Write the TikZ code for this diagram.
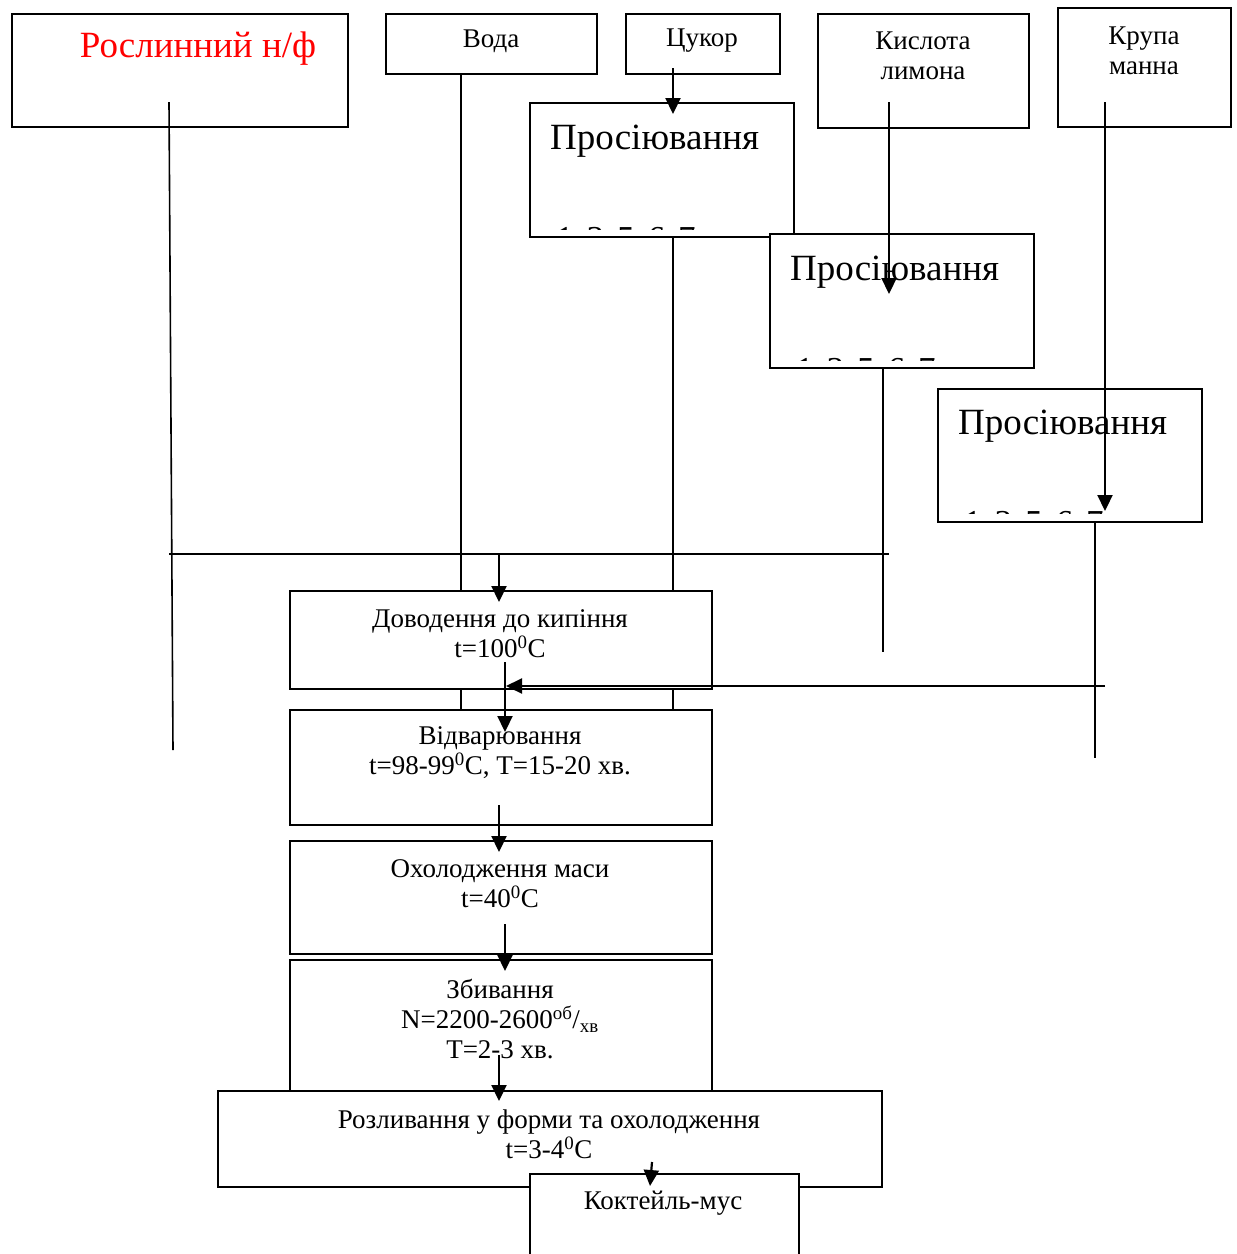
\documentclass[tikz,border=0pt]{standalone}
\usepackage{fontspec}
\setmainfont{Liberation Serif}
\usetikzlibrary{arrows.meta,calc}
\tikzset{
  box/.style={draw, line width=2pt, fill=white, inner sep=0pt, anchor=north west},
  txt/.style={align=center, inner sep=0pt, font=\fontsize{27}{30}\selectfont},
  bigtxt/.style={inner sep=0pt, anchor=base west, font=\fontsize{37}{40}\selectfont},
  digtxt/.style={inner sep=0pt, anchor=base west, font=\fontsize{35}{40}\selectfont},
  redtxt/.style={inner sep=0pt, anchor=base, text=red, font=\fontsize{37}{40}\selectfont},
  ln/.style={line width=1.6pt},
  arr/.style={line width=2.2pt, -{Triangle[length=16pt,width=15pt]}},
}
\newcommand{\digrow}{1\hspace{13pt}3\hspace{13pt}5\hspace{13pt}6\hspace{13pt}7}
\begin{document}
\begin{tikzpicture}[x=1pt,y=-1pt]
\useasboundingbox (0,0) rectangle (1237,1254);
% lines passing behind the process boxes
\coordinate (vodaout) at (461,73);
\coordinate (p1out) at (673,236);
% boxes
\node[box, minimum width=336pt, minimum height=113pt] (rosl) at (11,13) {};
\node[box, minimum width=211pt, minimum height=60pt] (voda) at (385,13) {};
\node[box, minimum width=154pt, minimum height=60pt] (cukor) at (625,13) {};
\node[box, minimum width=211pt, minimum height=114pt] (kisl) at (817,13) {};
\node[box, minimum width=173pt, minimum height=119pt] (krupa) at (1057,7) {};
\node[box, minimum width=264pt, minimum height=134pt] (pros1) at (529,102) {};
\node[box, minimum width=264pt, minimum height=134pt] (pros2) at (769,233) {};
\node[box, minimum width=264pt, minimum height=133pt] (pros3) at (937,388) {};
\coordinate (vodaend) at (461,709);
\coordinate (p1end) at (673,709);
\draw[ln] (vodaout) -- (vodaend);
\draw[ln] (p1out) -- (p1end);
\node[box, minimum width=422pt, minimum height=98pt] (dovod) at (289,590) {};
\node[box, minimum width=422pt, minimum height=115pt] (vidv) at (289,709) {};
\node[box, minimum width=422pt, minimum height=113pt] (oxol) at (289,840) {};
\node[box, minimum width=422pt, minimum height=131pt] (zbyv) at (289,959) {};
\node[box, minimum width=664pt, minimum height=96pt] (rozl) at (217,1090) {};
\node[box, minimum width=269pt, minimum height=100pt] (kokt) at (529,1173) {};
% texts
\node[redtxt] (troslyn) at (198,57) {Рослинний н/ф};
\node[txt] (tvoda) at (491,41) {Вода};
\node[txt] (tcukor) at (702,41) {Цукор};
\node[txt] (tkisl) at (923,56) {Кислота\\лимона};
\node[txt] (tkrupa) at (1144,51) {Крупа\\манна};
\node[bigtxt] (tpros1) at (550,149) {Просіювання};
\node[bigtxt] (tpros2) at (790,280) {Просіювання};
\node[bigtxt] (tpros3) at (958,434) {Просіювання};
\begin{scope}
  \clip (529,200) rectangle (793,229);
  \node[digtxt] (dig1) at (556,250) {\digrow};
\end{scope}
\begin{scope}
  \clip (769,330) rectangle (1033,360);
  \node[digtxt] (dig2) at (796,381) {\digrow};
\end{scope}
\begin{scope}
  \clip (937,480) rectangle (1201,513);
  \node[digtxt] (dig3) at (964,534) {\digrow};
\end{scope}
\node[txt] (tdovod) at (500,634) {Доводення до кипіння\\t=100\textsuperscript{0}C};
\node[txt] (tvidv) at (500,753) {Відварювання\\t=98-99\textsuperscript{0}C, T=15-20 хв.};
\node[txt] (toxol) at (500,884) {Охолодження маси\\t=40\textsuperscript{0}C};
\node[txt] (tzbyv) at (500,1019) {Збивання\\N=2200-2600\textsuperscript{об}/\textsubscript{хв}\\T=2-3 хв.};
\node[txt] (trozl) at (549,1134) {Розливання у форми та охолодження\\t=3-4\textsuperscript{0}C};
\node[txt] (tkokt) at (663,1203) {Коктейль-мус};
% connectors on top
\coordinate (rtop) at (169,102);
\coordinate (rbot) at (173,750);
\draw[ln] (rtop) -- (rbot);
\coordinate (hleft) at (169,554);
\coordinate (hright) at (889,554);
\draw[ln] (hleft) -- (hright);
\coordinate (hmid) at (499,554);
\draw[arr] (hmid) -- ($(hmid |- dovod.north)+(0,12)$);
\coordinate (cukorout) at (673,68);
\draw[arr] (cukorout) -- ($(cukorout |- pros1.north)+(0,12)$);
\coordinate (kislout) at (889,102);
\coordinate (kislin) at (889,294);
\draw[arr] (kislout) -- (kislin);
\coordinate (krupaout) at (1105,102);
\coordinate (krupain3) at (1105,511);
\draw[arr] (krupaout) -- (krupain3);
\coordinate (p2out) at (883,367);
\coordinate (p2end) at (883,652);
\draw[ln] (p2out) -- (p2end);
\coordinate (p3out) at (1095,521);
\coordinate (p3end) at (1095,758);
\draw[ln] (p3out) -- (p3end);
\coordinate (krupain) at (1105,686);
\coordinate (krupatip) at (506,686);
\draw[arr] (krupain) -- (krupatip);
\coordinate (dovodout) at (505,662);
\draw[arr] (dovodout) -- ($(dovodout |- vidv.north)+(0,23)$);
\coordinate (vidvout) at (499,805);
\draw[arr] (vidvout) -- ($(vidvout |- oxol.north)+(0,12)$);
\coordinate (oxolout) at (505,924);
\draw[arr] (oxolout) -- ($(oxolout |- zbyv.north)+(0,12)$);
\coordinate (zbyvout) at (499,1055);
\draw[arr] (zbyvout) -- ($(zbyvout |- rozl.north)+(0,11)$);
\coordinate (rozlout) at (652,1162);
\coordinate (koktin) at (650,1186);
\draw[arr] (rozlout) -- (koktin);
\end{tikzpicture}
\end{document}
